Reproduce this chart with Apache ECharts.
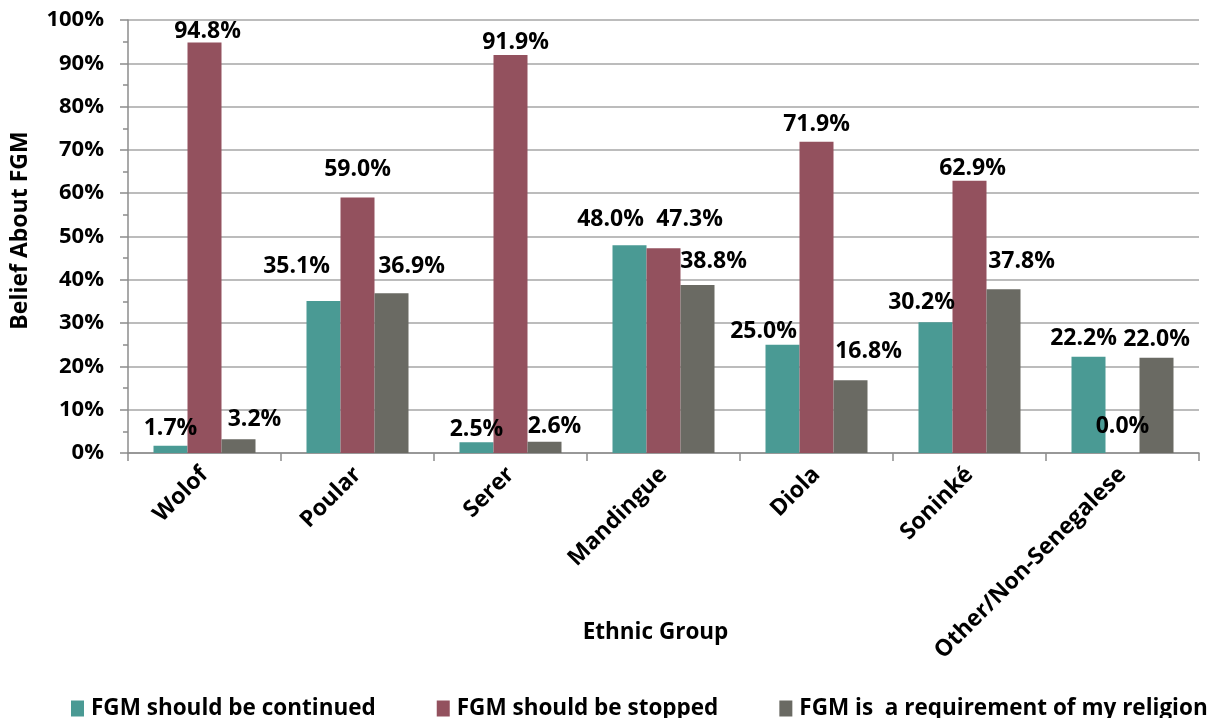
<!DOCTYPE html>
<html>
<head>
<meta charset="utf-8">
<script src="https://cdn.jsdelivr.net/npm/echarts@6/dist/echarts.min.js"></script>
<style>
html,body{margin:0;padding:0;background:#fff;}
#chart{width:1208px;height:718px;}
</style>
</head>
<body>
<div id="chart"></div>
<script>
const categories = ['Wolof', 'Poular', 'Serer', 'Mandingue', 'Diola', 'Soninké', 'Other/Non-Senegalese'];
const seriesNames = ['FGM should be continued', 'FGM should be stopped', 'FGM is  a requirement of my religion'];
const continued = [1.7, 35.1, 2.5, 48.0, 25.0, 30.2, 22.2];
const stopped = [94.8, 59.0, 91.9, 47.3, 71.9, 62.9, 0.0];
const religion = [3.2, 36.9, 2.6, 38.8, 16.8, 37.8, 22.0];
const yTicks = [0, 10, 20, 30, 40, 50, 60, 70, 80, 90, 100];

// label nudges (pixels) to mimic manually placed labels in the reference
const shiftContinued = [[0,-2],[-27,-19],[0,3],[-19,-10],[-19,2],[-14,-4],[-5,-3]];
const shiftStopped = [[3,4],[0,-13],[5,3],[26,-13],[0,-2],[3,3],[0,-11]];
const shiftReligion = [[16,-4],[20,-11],[10,0],[16,-8],[18,-13],[18,-12],[0,-3]];

const colors = ['#4A9A94', '#93515E', '#6A6A63'];
const FONT = '"Open Sans", "Liberation Sans", sans-serif';

function mk(name, vals, shifts, color) {
  return {
    name: name,
    type: 'bar',
    barWidth: 34,
    barGap: '0%',
    itemStyle: { color: color },
    data: vals.map((v, i) => ({
      value: v,
      label: { offset: shifts[i] }
    })),
    label: {
      show: true,
      position: 'top',
      distance: 4,
      fontFamily: FONT,
      fontWeight: 'bold',
      fontSize: 23,
      color: '#000',
      formatter: p => p.value.toFixed(1) + '%'
    }
  };
}

const chart = echarts.init(document.getElementById('chart'));
chart.setOption({
  animation: false,
  backgroundColor: '#fff',
  textStyle: { fontFamily: FONT },
  grid: { left: 128, right: 9, top: 20, bottom: 265, containLabel: false },
  legend: {
    left: 71,
    top: 697,
    width: 1137,
    padding: 0,
    itemWidth: 13,
    itemHeight: 16,
    itemGap: 61,
    icon: 'rect',
    textStyle: { fontFamily: FONT, fontWeight: 'bold', fontSize: 22.5, color: '#000', padding: [0,0,0,2] },
    data: seriesNames
  },
  xAxis: {
    type: 'category',
    data: categories,
    name: 'Ethnic Group',
    nameLocation: 'middle',
    nameGap: 168,
    nameMoveOverlap: false,
    nameTextStyle: { fontFamily: FONT, fontWeight: 'bold', fontSize: 22.5, color: '#000', padding: [0, 16, 0, 0] },
    axisLine: { lineStyle: { color: '#8c8c8c', width: 1.5 } },
    axisTick: { show: true, length: 8, lineStyle: { color: '#8c8c8c', width: 1.5 } },
    axisLabel: { rotate: 45, margin: 18, fontFamily: FONT, fontWeight: 'bold', fontSize: 23, color: '#000', interval: 0 }
  },
  yAxis: {
    type: 'value',
    min: 0,
    max: 100,
    interval: 10,
    name: 'Belief About FGM',
    nameLocation: 'middle',
    nameGap: 96,
    nameMoveOverlap: false,
    nameTextStyle: { fontFamily: FONT, fontWeight: 'bold', fontSize: 23, color: '#000', padding: [0, 0, 0, 12] },
    axisLine: { show: true, lineStyle: { color: '#8c8c8c', width: 1.5 } },
    axisTick: { show: true, length: 8, lineStyle: { color: '#8c8c8c', width: 1.5 } },
    minorTick: { show: true, splitNumber: 2, length: 5, lineStyle: { color: '#8c8c8c', width: 1.5 } },
    splitLine: { show: true, lineStyle: { color: '#a6a6a6', width: 1.5 } },
    axisLabel: {
      margin: 24,
      fontFamily: FONT, fontWeight: 'bold', fontSize: 22, color: '#000',
      formatter: v => (yTicks.indexOf(v) >= 0 ? v + '%' : '')
    }
  },
  series: [
    mk(seriesNames[0], continued, shiftContinued, colors[0]),
    mk(seriesNames[1], stopped, shiftStopped, colors[1]),
    mk(seriesNames[2], religion, shiftReligion, colors[2])
  ]
});
</script>
</body>
</html>
